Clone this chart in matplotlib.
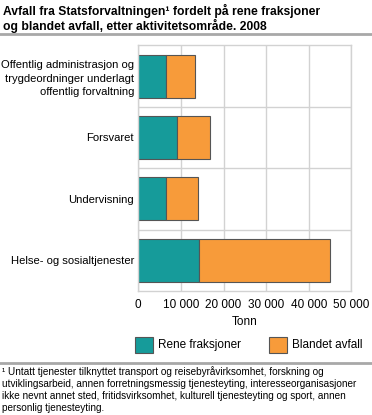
import matplotlib
matplotlib.use('Agg')
import matplotlib.pyplot as plt
from matplotlib.patches import Rectangle
from matplotlib.lines import Line2D
import numpy as np

plt.rcParams['font.family'] = ['Liberation Sans', 'DejaVu Sans']

# Data (tonn)
categories = [
    'Offentlig administrasjon og\ntrygdeordninger underlagt\noffentlig forvaltning',
    'Forsvaret',
    'Undervisning',
    'Helse- og sosialtjenester',
]
rene = [6400, 9000, 6400, 14200]
blandet = [7000, 7900, 7600, 30900]
xticks = [0, 10000, 20000, 30000, 40000, 50000]
xtick_labels = ['0', '10 000', '20 000', '30 000', '40 000', '50 000']
series_names = ['Rene fraksjoner', 'Blandet avfall']

title = ('Avfall fra Statsforvaltningen\u00b9 fordelt på rene fraksjoner\n'
         'og blandet avfall, etter aktivitetsområde. 2008')
footnote = ('\u00b9 Untatt tjenester tilknyttet transport og reisebyråvirksomhet, forskning og\n'
            'utviklingsarbeid, annen forretningsmessig tjenesteyting, interesseorganisasjoner\n'
            'ikke nevnt annet sted, fritidsvirksomhet, kulturell tjenesteyting og sport, annen\n'
            'personlig tjenesteyting.')

teal = '#169b9a'
orange = '#f79b3a'
grid_c = '#d2d2d2'
edge_c = '#555555'

W, H = 372, 415
fig = plt.figure(figsize=(W / 100, H / 100), dpi=100)

ax = fig.add_axes([138.3 / W, 1 - 291 / H, 213 / W, 245.7 / H])
y = np.arange(len(categories)) + 0.5
ax.barh(y, rene, height=0.7, color=teal, edgecolor=edge_c, linewidth=0.8)
ax.barh(y, blandet, left=rene, height=0.7, color=orange, edgecolor=edge_c, linewidth=0.8)

ax.set_xlim(0, 50000)
ax.set_ylim(len(categories), 0)
ax.set_xticks(xticks)
ax.set_xticklabels(xtick_labels, fontsize=8.5)
ax.set_yticks(y)
ax.set_yticklabels(categories, fontsize=8.1, ha='right', linespacing=1.45)
ax.set_yticks(np.arange(1, len(categories)), minor=True)
ax.tick_params(axis='both', which='both', length=0)
ax.tick_params(axis='x', pad=6)
ax.tick_params(axis='y', pad=3)
ax.grid(True, axis='x', color=grid_c, linewidth=1)
ax.grid(True, axis='y', which='minor', color=grid_c, linewidth=1)
ax.set_axisbelow(True)
for s in ax.spines.values():
    s.set_color(grid_c)
    s.set_linewidth(1)
ax.set_xlabel('Tonn', fontsize=8.5, labelpad=3)

# Title and separator
fig.text(3 / W, 1 - 4 / H, title, fontsize=8.7, fontweight='bold', va='top', ha='left',
         linespacing=1.12)
fig.add_artist(Line2D([0, 1], [1 - 34 / H] * 2, color='#a8a8a8', linewidth=2))

# Legend
for i, (name, col) in enumerate(zip(series_names, [teal, orange])):
    x0 = [135, 269][i]
    fig.add_artist(Rectangle((x0 / W, 1 - 353 / H), 17.5 / W, 16.5 / H,
                             facecolor=col, edgecolor=edge_c, linewidth=0.8))
    fig.text((x0 + 23) / W, 1 - 345 / H, name, fontsize=8.5, va='center', ha='left')

# Footnote
fig.add_artist(Line2D([0, 1], [1 - 362.5 / H] * 2, color='#a8a8a8', linewidth=2))
fig.text(2 / W, 1 - 366.5 / H, footnote, fontsize=7.2, va='top', ha='left', linespacing=1.25)

fig.savefig('out.png', dpi=100)
